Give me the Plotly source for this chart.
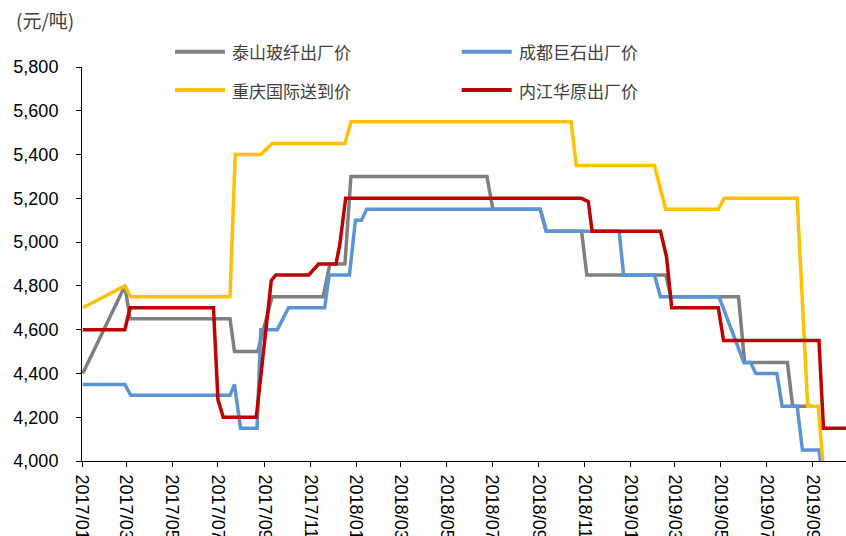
import plotly.graph_objects as go

# ---------------- data ----------------
names = ["泰山玻纤出厂价", "成都巨石出厂价", "重庆国际送到价", "内江华原出厂价"]

taishan_dates = ["2017-01-02", "2017-02-27", "2017-03-06", "2017-07-17", "2017-07-23", "2017-08-23",
                 "2017-09-11", "2017-11-18", "2017-11-27", "2017-12-17", "2017-12-25", "2018-06-24",
                 "2018-07-02", "2018-09-03", "2018-09-11", "2018-10-28", "2018-11-04", "2019-02-17",
                 "2019-02-24", "2019-05-25", "2019-06-02", "2019-07-29", "2019-08-05", "2019-08-31"]
taishan_vals = [4400, 4800, 4650, 4650, 4500, 4500,
                4750, 4750, 4900, 4900, 5300, 5300,
                5150, 5150, 5050, 5050, 4850, 4850,
                4750, 4750, 4450, 4450, 4250, 4250]

chengdu_dates = ["2017-01-02", "2017-02-27", "2017-03-07", "2017-07-17", "2017-07-23", "2017-07-31",
                 "2017-08-22", "2017-08-27", "2017-09-18", "2017-10-03", "2017-11-20", "2017-11-26",
                 "2017-12-23", "2017-12-31", "2018-01-08", "2018-01-15", "2018-09-03", "2018-09-11",
                 "2018-12-17", "2018-12-23", "2019-02-02", "2019-02-10", "2019-04-29", "2019-05-26",
                 "2019-06-01", "2019-06-10", "2019-06-17", "2019-07-15", "2019-07-22", "2019-08-11",
                 "2019-08-18", "2019-09-09", "2019-09-11"]
chengdu_vals = [4350, 4350, 4300, 4300, 4350, 4150,
                4150, 4600, 4600, 4700, 4700, 4850,
                4850, 5100, 5100, 5150, 5150, 5050,
                5050, 4850, 4850, 4750, 4750, 4500,
                4450, 4450, 4400, 4400, 4250, 4250,
                4050, 4050, 4000]

chongqing_dates = ["2017-01-02", "2017-02-27", "2017-03-07", "2017-07-17", "2017-07-24", "2017-08-27",
                   "2017-09-11", "2017-12-17", "2017-12-25", "2018-10-14", "2018-10-21", "2019-02-02",
                   "2019-02-17", "2019-04-28", "2019-05-06", "2019-08-11", "2019-08-25", "2019-09-08",
                   "2019-09-14"]
chongqing_vals = [4700, 4800, 4750, 4750, 5400, 5400,
                  5450, 5450, 5550, 5550, 5350, 5350,
                  5150, 5150, 5200, 5200, 4250, 4250,
                  4000]

neijiang_dates = ["2017-01-02", "2017-02-27", "2017-03-06", "2017-06-25", "2017-07-01", "2017-07-08",
                  "2017-08-21", "2017-09-10", "2017-09-16", "2017-10-30", "2017-11-04", "2017-11-12",
                  "2017-12-05", "2017-12-10", "2017-12-18", "2018-10-28", "2018-11-06", "2018-11-11",
                  "2019-02-10", "2019-02-18", "2019-02-25", "2019-04-28", "2019-05-05", "2019-09-09",
                  "2019-09-15", "2019-10-15"]
neijiang_vals = [4600, 4600, 4700, 4700, 4280, 4200,
                 4200, 4825, 4850, 4850, 4870, 4900,
                 4900, 4985, 5200, 5200, 5185, 5050,
                 5050, 4935, 4700, 4700, 4550, 4550,
                 4150, 4150]

y_ticks = [4000, 4200, 4400, 4600, 4800, 5000, 5200, 5400, 5600, 5800]
unit_label = "(元/吨)"

# ---------------- style ----------------
colors = ["#7F7F7F", "#5B93D7", "#FFC000", "#C00000"]
series = [(taishan_dates, taishan_vals), (chengdu_dates, chengdu_vals),
          (chongqing_dates, chongqing_vals), (neijiang_dates, neijiang_vals)]
draw_order = [0, 1, 2, 3]

fig = go.Figure()
for i in draw_order:
    d, v = series[i]
    fig.add_trace(go.Scatter(x=d, y=v, mode="lines", name=names[i],
                             line=dict(color=colors[i], width=3.5),
                             showlegend=False, hoverinfo="x+y+name"))

num_font = "Liberation Sans, Arial, sans-serif"
cjk_font = "Noto Sans CJK SC, sans-serif"

fig.update_layout(
    width=846, height=536,
    margin=dict(l=82, r=0, t=67, b=75, autoexpand=False),
    paper_bgcolor="white", plot_bgcolor="white",
    xaxis=dict(
        type="date",
        range=["2017-01-01", "2019-10-15"],
        tick0="2017-01-01", dtick="M2", tickformat="%Y/%m",
        tickangle=90, automargin=False,
        showgrid=False, zeroline=False,
        showline=True, linecolor="black", linewidth=1,
        ticks="outside", ticklen=5, tickcolor="black",
        tickfont=dict(family=num_font, size=18, color="black"),
        ticklabelstandoff=4,
    ),
    yaxis=dict(
        range=[4000, 5800], automargin=False,
        tickvals=y_ticks, tickformat=",",
        showgrid=False, zeroline=False,
        showline=True, linecolor="black", linewidth=1,
        ticks="outside", ticklen=5, tickcolor="black",
        tickfont=dict(family=num_font, size=18, color="black"),
        ticklabelstandoff=14,
    ),
)

# manual legend (2 x 2)
leg_pos = [(175, 51.7), (461.7, 51.7), (175, 90), (461.7, 90)]
def px_to_paper(px, py):
    return (px - 82) / 764.0, (461 - py) / 394.0

for i in range(4):
    lx, ly = leg_pos[i]
    x0, y0 = px_to_paper(lx, ly)
    x1, _ = px_to_paper(lx + 50, ly)
    fig.add_shape(type="line", xref="paper", yref="paper", x0=x0, x1=x1, y0=y0, y1=y0,
                  line=dict(color=colors[i], width=4))
    tx, _ = px_to_paper(lx + 55, ly)
    fig.add_annotation(xref="paper", yref="paper", x=tx, y=y0, text=names[i],
                       showarrow=False, xanchor="left", yanchor="middle",
                       font=dict(family=cjk_font, size=17, color="#404040"))

ux, uy = px_to_paper(14, 20)
fig.add_annotation(xref="paper", yref="paper", x=ux, y=uy, text=unit_label,
                   showarrow=False, xanchor="left", yanchor="middle",
                   font=dict(family=cjk_font, size=19, color="#404040"))

fig.write_html("out.html")
